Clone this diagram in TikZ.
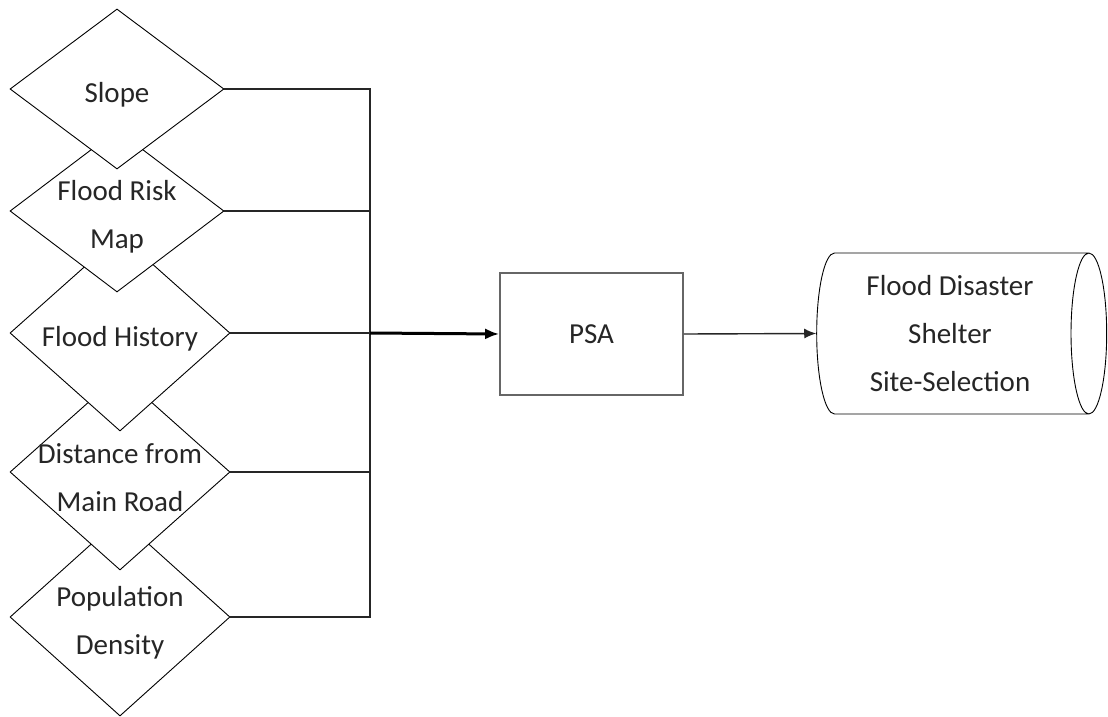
\documentclass[tikz,border=0pt]{standalone}
\usepackage{fontspec}
\setmainfont{Carlito}
\usetikzlibrary{shapes.geometric,arrows.meta}
\tikzset{
  dia/.style={diamond,draw,fill=white,line width=0.9pt,inner sep=0pt},
  every label/.style={align=center,font=\fontsize{29}{48}\selectfont,text=black!85,yshift=-6pt},
  box/.style={rectangle,draw=black!60,line width=1.6pt,minimum width=183pt,minimum height=122pt,
    font=\fontsize{29}{48}\selectfont,text=black!85},
  drum/.style={cylinder,draw,line width=0.9pt,aspect=0.29,minimum width=161pt,minimum height=290pt,
    align=center,font=\fontsize{29}{48}\selectfont,text=black!85},
  wire/.style={line width=1.4pt,black!85}
}
\begin{document}
\begin{tikzpicture}[x=1pt,y=-1pt,>={Latex[length=14pt,width=11pt]}]
   \useasboundingbox (0,0) rectangle (1108,717);
   %criteria, lowest first so the upper ones lie on top
   \node[dia,minimum width=220pt,minimum height=198pt,label=center:{Population\\Density}] (pop) at (120,617) {};
   \node[dia,minimum width=220pt,minimum height=196pt,label=center:{Distance from\\Main Road}] (road) at (120,472) {};
   \node[dia,minimum width=220pt,minimum height=196pt,label=center:{Flood History}] (hist) at (120,333) {};
   \node[dia,minimum width=214pt,minimum height=162pt,label=center:{Flood Risk\\Map}] (risk) at (117,211) {};
   \node[dia,minimum width=214pt,minimum height=160pt,label=center:{Slope}] (slope) at (117,89) {};
   %process
   \node[box] (psa) at (591.5,334) {PSA};
   \node[drum] (site) at (950,333.5) {Flood Disaster\\Shelter\\Site-Selection};
   %bus
   \coordinate (bus) at (370,333);
   \draw[wire] (slope.east) -| (bus);
   \draw[wire] (pop.east) -| (bus);
   \draw[wire] (risk.east) -- (risk.east -| bus);
   \draw[wire] (road.east) -- (road.east -| bus);
   \draw[wire] (hist.east) -- (bus);
   %arrows
   \draw[->,line width=3pt] (bus) -- (psa.west);
   \draw[->,wire,>={Latex[length=12pt,width=10pt]}] (psa.east) -- (site.west);
\end{tikzpicture}
\end{document}
